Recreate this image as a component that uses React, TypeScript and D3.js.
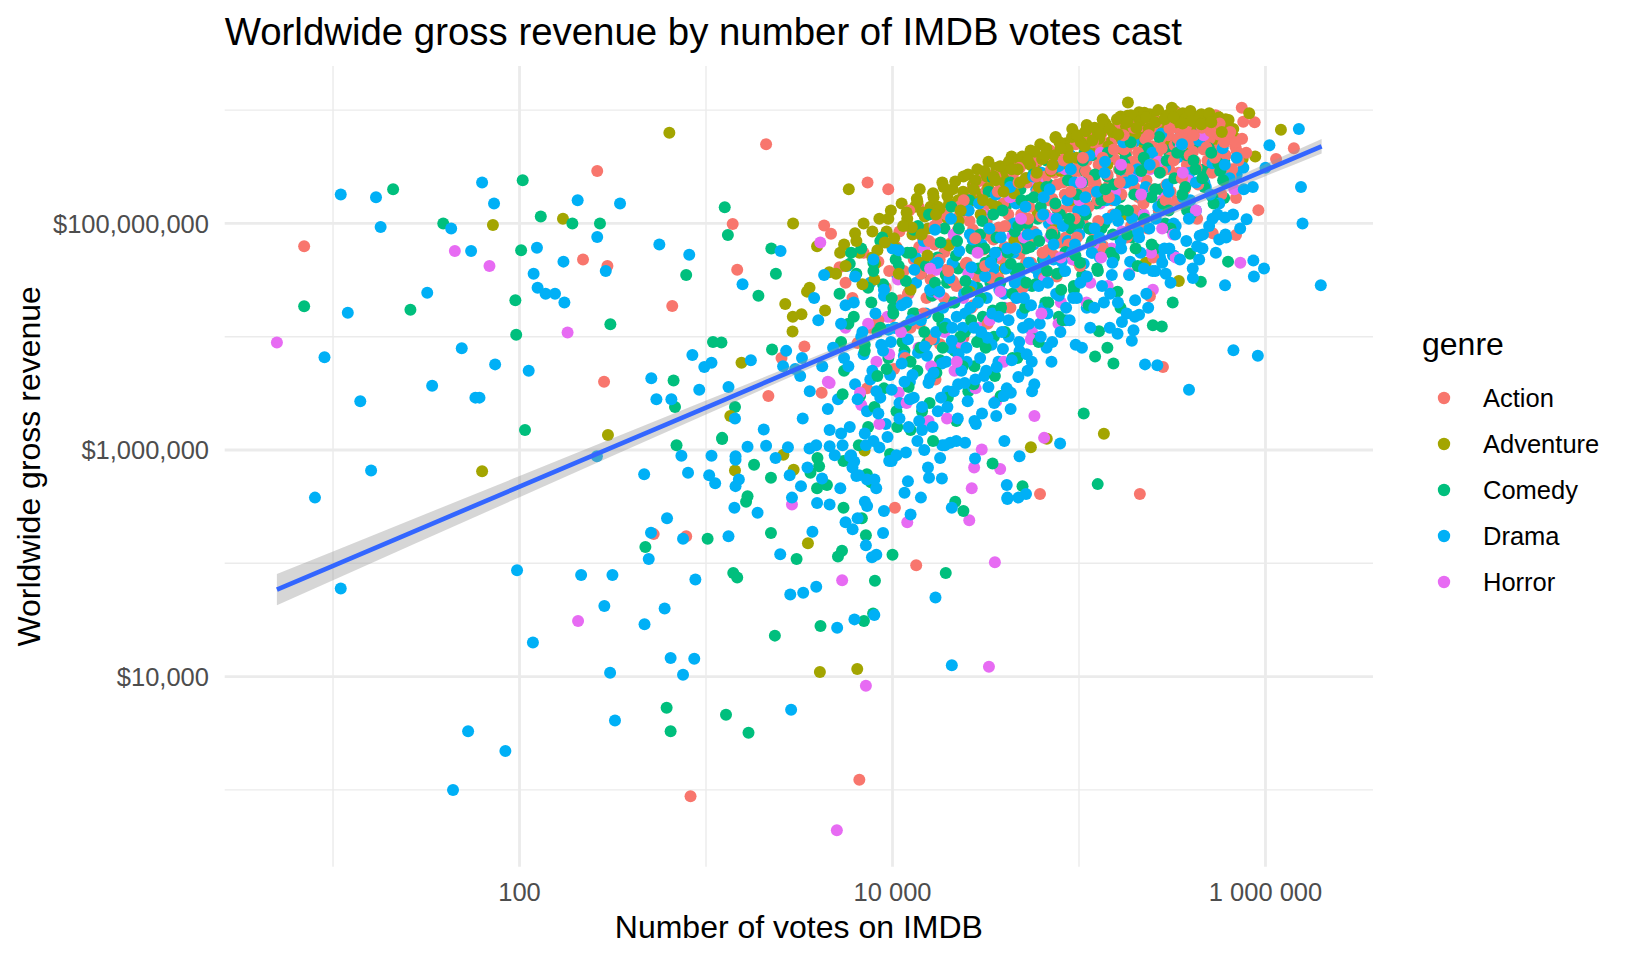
import React, { useMemo } from 'react';
import * as d3 from 'd3';

// [votes on IMDB, worldwide gross in $], one list per genre
type Point = [number, number];

const genres = ['Action', 'Adventure', 'Comedy', 'Drama', 'Horror'];
const genreColors = ['#F8766D', '#A3A500', '#00BF7D', '#00B0F6', '#E76BF3'];

const action: Point[] = [
  [7.0, 6.3e7], [261, 2.9e8], [219, 4.8e7], [296, 4.2e7], [284, 4.0e6], [524, 1.81e5], [783, 1.73e5],
  [10300, 3.1e5], [13400, 9.6e4], [6640, 1230], [826, 880], [212000, 4.1e5], [61800, 4.1e5],
  [1.42e6, 4.6e8], [1.14e6, 3.7e8], [695000, 7.9e7], [521000, 8.2e7], [916000, 1.31e8], [695000, 1.68e8],
  [746000, 1.05e9], [875000, 7.8e8], [760000, 7.9e8], [428000, 8.2e8], [474000, 7.8e8], [282000, 5.4e6],
  [2100, 5.0e8], [1390, 9.9e7], [1470, 3.9e7], [659, 1.87e7], [4300, 9.6e7], [4680, 8.1e7], [7350, 2.3e8],
  [9490, 2.0e8], [2540, 6.5e6], [3370, 8.2e6], [2160, 3.0e6], [4170, 3.2e6],
  [5200, 4.1e7], [6100, 2.2e7], [7000, 5.5e7], [7600, 1.2e7], [6500, 8.8e6], [5600, 3.0e7], [7300, 3.5e6],
  [8400, 4.6e7], [9200, 2.7e7], [10500, 6.2e7], [11500, 3.8e7], [9800, 1.5e7], [12000, 9.5e7], [8800, 7.2e7],
  [11000, 2.1e7], [12500, 1.2e7], [10200, 5.2e6],
  [13000, 4.8e7], [14500, 7.5e7], [16000, 3.2e7], [17500, 1.1e8], [19000, 5.6e7], [15200, 2.2e7], [18000, 8.6e6],
  [13800, 1.4e8], [16800, 6.5e7], [19500, 3.9e7], [14000, 1.3e7], [17000, 4.2e6],
  [21000, 6.9e7], [23000, 1.2e8], [25000, 4.5e7], [27000, 8.8e7], [29000, 1.6e8], [31000, 5.9e7], [22000, 2.8e7],
  [26000, 1.9e8], [24000, 9.8e6], [28500, 3.4e7], [30000, 2.4e8], [21500, 1.45e8], [32000, 1.05e8], [26500, 1.8e7],
  [33000, 7.8e7], [36000, 1.3e8], [38000, 4.9e7], [41000, 2.1e8], [44000, 9.2e7], [47000, 3.0e8], [35000, 2.7e8],
  [40000, 6.2e7], [43000, 1.7e8], [49000, 1.2e8], [37000, 3.3e7], [45000, 2.4e7], [34000, 1.9e8], [48000, 5.4e7],
  [42000, 3.4e8],
  [51000, 1.5e8], [54000, 2.5e8], [57000, 8.5e7], [60000, 3.8e8], [63000, 1.9e8], [66000, 1.2e8], [70000, 4.4e8],
  [74000, 2.8e8], [78000, 6.8e7], [52000, 4.5e7], [58000, 3.2e8], [68000, 5.8e7], [72000, 1.65e8], [76000, 3.4e7],
  [62000, 2.2e8],
  [82000, 2.3e8], [86000, 4.0e8], [90000, 1.4e8], [95000, 5.5e8], [100000, 2.9e8], [105000, 1.0e8], [110000, 3.6e8],
  [115000, 1.9e8], [120000, 6.2e8], [85000, 7.5e7], [98000, 4.6e7], [112000, 2.4e8], [125000, 4.7e8], [92000, 3.2e8],
  [130000, 3.0e8], [140000, 5.1e8], [150000, 1.6e8], [160000, 7.0e8], [170000, 2.7e8], [180000, 4.2e8], [190000, 9.5e7],
  [135000, 6.3e7], [155000, 3.7e8], [175000, 5.8e8], [198000, 2.1e8], [145000, 2.2e8], [185000, 7.6e8],
  [205000, 3.3e8], [215000, 5.3e8], [230000, 2.4e8], [245000, 6.6e8], [260000, 4.0e8], [275000, 1.5e8], [290000, 8.4e8],
  [305000, 3.0e8], [220000, 9.8e7], [250000, 5.0e7], [285000, 5.6e8], [310000, 1.9e8], [240000, 2.28e7],
  [320000, 4.6e8], [340000, 7.1e8], [360000, 2.7e8], [380000, 5.7e8], [400000, 8.9e8], [420000, 3.5e8], [445000, 6.3e8],
  [470000, 2.2e8], [490000, 4.8e8], [350000, 1.5e8], [430000, 1.1e8], [460000, 8.0e8],
  [520000, 5.4e8], [560000, 3.9e8], [600000, 6.8e8], [650000, 2.6e8], [700000, 4.4e8], [540000, 9.0e8], [580000, 1.8e8],
];

const adventure: Point[] = [
  [72, 9.7e7], [171, 1.1e8], [298, 1.36e6], [63, 6.5e5], [1430, 6.6e5], [2600, 9.1e5], [2950, 6.7e5], [7080, 9.9e5],
  [3520, 1.5e5], [4080, 1.1e4], [6470, 1.17e4], [55200, 1.06e6], [67200, 1.26e6], [136000, 1.39e6],
  [1.21e6, 6.7e8], [881000, 3.9e8], [755000, 3.7e8], [818000, 9.4e8], [697000, 5.6e8], [612000, 8.3e8], [557000, 8.7e8],
  [343000, 3.1e7], [228000, 4.5e7], [183000, 1.17e9], [210000, 9.6e8], [167000, 8.8e8], [139000, 7.6e8],
  [242000, 8.1e8], [327000, 9.8e8], [360000, 9.4e8], [453000, 9.2e8], [555000, 8.8e8], [614000, 8.2e8],
  [221000, 6.6e8], [74800, 5.7e8], [85300, 5.1e8], [127000, 5.6e8], [45200, 3.6e8], [58900, 3.4e8], [37800, 2.9e8],
  [636, 6.3e8], [2930, 1.0e8], [3940, 6.3e7], [5830, 2.0e8], [14000, 2.0e8], [13200, 1.4e8], [16000, 1.4e8],
  [32700, 3.5e8], [45100, 3.6e8], [37300, 3.0e8], [37300, 2.5e8], [27500, 1.9e8], [5240, 5.5e7], [6650, 5.5e7],
  [8070, 4.4e7], [4580, 3.7e7], [4980, 3.6e7], [3480, 2.5e7], [3590, 2.7e7], [2660, 1.94e7], [2920, 1.5e7],
  [3250, 1.58e7], [4350, 1.7e7], [2910, 1.11e7], [1550, 5.9e6], [1350, 2.0e6],
  [5500, 6.5e7], [6300, 8.2e7], [7000, 1.0e8], [7800, 5.0e7], [8500, 1.1e8], [9300, 8.5e7], [9800, 1.3e8],
  [10500, 6.0e7], [11200, 1.5e8], [12000, 1.1e8], [12800, 8.0e7], [13500, 1.65e8], [14500, 1.25e8], [15500, 9.0e7],
  [16500, 1.85e8], [17500, 1.4e8], [18500, 2.3e8], [19800, 1.1e8], [21000, 2.0e8], [22500, 1.6e8], [24000, 2.6e8],
  [25500, 1.3e8], [27000, 2.2e8], [28500, 3.0e8], [30000, 1.8e8], [32000, 2.6e8], [34000, 1.5e8], [36000, 3.1e8],
  [38500, 2.1e8], [41000, 2.8e8], [43500, 3.9e8], [46000, 1.9e8], [49000, 3.3e8], [52000, 2.5e8], [55000, 4.4e8],
  [58000, 3.0e8], [62000, 5.0e8], [66000, 2.2e8], [70000, 3.7e8], [75000, 5.8e8], [80000, 2.9e8], [86000, 4.8e8],
  [92000, 6.8e8], [98000, 3.6e8], [104000, 5.6e8], [110000, 7.4e8], [118000, 4.2e8], [126000, 6.3e8], [134000, 8.3e8],
  [142000, 3.3e8], [150000, 5.3e8], [160000, 7.0e8], [170000, 4.5e8], [182000, 8.9e8], [195000, 6.0e8], [210000, 7.8e8],
  [225000, 4.9e8], [240000, 9.2e8], [260000, 6.8e8], [280000, 8.0e8], [300000, 5.5e8], [325000, 9.0e8], [350000, 7.3e8],
  [380000, 4.6e8], [410000, 8.4e8], [440000, 6.2e8], [480000, 7.6e8], [520000, 8.3e8], [560000, 5.2e8], [620000, 7.0e8],
  [8000, 3.2e7], [14000, 4.5e7], [20000, 6.4e7], [26000, 2.5e7], [33000, 9.0e7], [45000, 7.0e7], [60000, 1.25e8],
  [90000, 1.6e8], [130000, 2.0e8], [180000, 1.2e8], [270000, 3.2e8], [12500, 2.6e7], [40000, 4.0e7], [75000, 1.0e8],
  [115000, 9.0e7],
];

const comedy: Point[] = [
  [21, 2.0e8], [7.0, 1.86e7], [26, 1.73e7], [39, 1.0e8], [104, 2.4e8], [130, 1.15e8], [102, 5.8e7], [192, 1.0e8],
  [270, 1.0e8], [95, 2.1e7], [96, 1.04e7], [307, 1.29e7], [107, 1.5e6],
  [695, 1.1e6], [1220, 1.25e6], [1640, 3.5e5], [1670, 3.9e5], [1810, 7.4e5], [2230, 5.7e5], [5460, 3.1e5],
  [3940, 4.6e5], [4450, 4.9e5], [3630, 6.3e5], [4040, 7.2e5], [3960, 8.5e5], [5460, 8.0e5], [7290, 6.1e5],
  [7660, 5.2e5], [6850, 2.5e5], [7200, 1.77e5], [5100, 1.15e5], [5360, 1.29e5], [10000, 1.19e5], [21700, 3.5e5],
  [24000, 2.9e5], [34400, 7.6e5], [1400, 8.2e4], [1470, 7.5e4], [473, 1.39e5], [1020, 1.65e5], [2230, 1.85e5],
  [3060, 1.09e5], [19300, 8.2e4], [8050, 7.0e4], [7870, 3.6e4], [7030, 3.1e4], [4110, 2.8e4], [2340, 2.3e4],
  [615, 5.3e3], [646, 3.3e3], [1280, 4.6e3], [1690, 3.2e3], [126000, 5.0e5], [49800, 4.8e5],
  [630000, 4.6e7], [450000, 3.05e7], [394000, 5.4e7], [600000, 1.68e8], [107000, 4.2e8], [66800, 3.6e8],
  [106000, 2.1e6], [153000, 5.8e6], [318000, 2.0e7], [278000, 1.23e7], [249000, 1.26e7], [167000, 1.8e7],
  [128000, 1.12e7], [142000, 8.0e6], [122000, 6.7e6],
  [1260, 1.39e8], [1310, 7.9e7], [783, 3.5e7], [1910, 2.3e7], [2240, 6.0e7], [2370, 3.6e7], [1090, 9.0e6],
  [1210, 8.9e6], [670, 4.1e6], [682, 2.4e6], [2260, 7.7e6], [1430, 2.4e6], [1220, 1.28e6],
  [5200, 2.4e7], [5800, 1.3e7], [6400, 3.6e7], [7100, 8.5e6], [7700, 2.0e7], [5500, 5.0e6], [6700, 3.0e6],
  [7400, 1.6e6], [6000, 5.5e7], [7900, 4.5e7], [5300, 9.0e6],
  [8300, 1.1e7], [8900, 2.9e7], [9500, 6.5e6], [10100, 1.8e7], [10800, 4.2e7], [11600, 7.5e6], [12300, 2.5e7],
  [9000, 3.5e6], [10500, 2.2e6], [11800, 1.25e7], [8600, 7.0e7], [12000, 5.5e7], [9700, 9.2e5], [12500, 1.5e6],
  [13200, 1.6e7], [14200, 3.6e7], [15300, 8.8e6], [16300, 2.3e7], [17400, 5.0e7], [18500, 1.3e7], [19600, 3.0e7],
  [13600, 5.0e6], [15800, 2.6e6], [18000, 6.2e6], [14800, 7.0e7], [19000, 9.0e7], [16500, 1.2e6], [13000, 8.8e7],
  [20500, 2.0e7], [22500, 4.0e7], [24500, 1.1e7], [26500, 6.0e7], [28500, 2.7e7], [30500, 1.5e7], [21500, 7.5e6],
  [25500, 3.3e6], [29500, 8.0e7], [23500, 1.3e8], [31500, 4.5e7], [27500, 5.5e6], [22000, 1.8e6],
  [33500, 3.0e7], [36500, 5.5e7], [39000, 1.8e7], [42000, 9.5e7], [45500, 3.8e7], [48500, 2.0e8], [35000, 1.0e7],
  [40500, 1.4e8], [44000, 6.5e6], [47500, 7.0e7], [38000, 3.0e6], [34500, 2.5e8],
  [52000, 6.0e7], [56000, 2.8e7], [60000, 1.1e8], [64000, 4.2e7], [69000, 2.2e8], [74000, 8.0e7], [78000, 1.5e7],
  [54000, 1.6e8], [66000, 2.0e7], [72000, 3.3e8], [58000, 9.5e6], [77000, 1.3e8],
  [83000, 5.0e7], [88000, 1.8e8], [94000, 2.6e7], [100000, 1.0e8], [108000, 2.9e8], [116000, 6.5e7], [124000, 1.5e8],
  [90000, 3.6e8], [104000, 3.5e7], [120000, 4.0e8],
  [132000, 9.0e7], [142000, 2.6e8], [154000, 5.0e7], [166000, 1.7e8], [178000, 3.9e8], [192000, 7.5e7],
  [148000, 4.6e8], [185000, 2.4e8],
  [210000, 1.2e8], [230000, 3.5e8], [255000, 6.0e7], [275000, 2.0e8], [300000, 4.4e8], [220000, 5.5e8], [290000, 1.0e8],
  [340000, 2.6e8], [380000, 1.3e8], [420000, 5.0e8], [470000, 3.0e8], [520000, 1.7e8], [600000, 3.6e8],
];

const drama: Point[] = [
  [11, 1.8e8], [17, 1.7e8], [18, 9.3e7], [12, 1.63e7], [9.0, 6.6e6], [14, 2.7e6], [32, 2.44e7], [43, 9.0e7],
  [55, 5.7e7], [63, 2.3e8], [73, 1.5e8], [124, 6.1e7], [205, 1.6e8], [346, 1.5e8], [261, 7.6e7], [290, 3.8e7],
  [172, 4.6e7], [119, 3.6e7], [125, 2.7e7], [138, 2.4e7], [155, 2.4e7], [174, 2.0e7], [49, 7.9e6], [74, 5.7e6],
  [112, 5.0e6], [34, 3.7e6], [58, 2.9e6], [61, 2.9e6],
  [8.0, 3.8e5], [16, 6.6e5], [11, 6.0e4], [97, 8.7e4], [214, 7.9e4], [315, 7.9e4], [285, 4.2e4], [118, 2.0e4],
  [306, 1.08e4], [325, 4.1e3], [53, 3.3e3], [84, 2.2e3], [44, 1.0e3], [260, 8.8e5],
  [466, 6.1e5], [738, 8.9e5], [801, 6.3e5], [1070, 8.9e5], [1040, 6.0e5], [1120, 5.1e5], [1440, 8.8e5], [1440, 8.2e5],
  [1500, 5.5e5], [1440, 4.8e5], [1420, 3.1e5], [1890, 2.8e5], [1670, 1.07e6], [2100, 1.09e6], [2360, 8.5e5],
  [2750, 1.06e6], [2810, 6.0e5], [3230, 4.8e5], [2890, 3.8e5], [3940, 3.4e5], [4600, 3.3e5], [5250, 4.6e5],
  [4190, 5.6e5], [3590, 1.03e6], [4600, 1.08e6], [5930, 8.8e5], [6230, 7.9e5], [6400, 5.9e5], [8180, 4.6e5],
  [7110, 3.5e5], [7310, 3.2e5], [5600, 2.3e5], [6110, 2.0e5], [7200, 1.44e5], [7760, 1.13e5], [8190, 1.19e5],
  [8900, 1.85e5], [9000, 2.9e5], [12500, 2.7e5], [11600, 4.2e5], [14200, 3.8e5], [12100, 5.3e5], [18400, 5.6e5],
  [15700, 5.7e5], [20800, 3.1e5], [41000, 4.9e5], [41300, 3.8e5], [27700, 8.4e5], [39800, 1.2e6], [24500, 1.16e6],
  [18500, 1.1e6], [20400, 1.16e6], [877, 7.2e4], [600, 4.0e4], [468, 2.9e4], [646, 1.46e4], [865, 1.44e4],
  [753, 1.04e4], [493, 1.09e5], [618, 2.5e5], [507, 1.86e5], [753, 1.65e5], [1320, 1.73e5], [3720, 1.9e5],
  [2500, 1.2e5], [17000, 5.0e4], [3900, 6.2e4], [2830, 5.3e4], [3320, 5.5e4], [7990, 3.5e4], [6250, 3.2e4],
  [5050, 2.7e4], [20800, 1.26e4], [2860, 5.1e3],
  [41300, 3.7e5], [47300, 3.8e5], [52000, 4.1e5], [48000, 8.8e5], [79200, 1.14e6],
  [1.51e6, 6.8e8], [1.05e6, 4.9e8], [1.0e6, 3.1e8], [1.55e6, 2.1e8], [1.58e6, 1.0e8], [1.98e6, 2.85e7],
  [861000, 4.7e7], [982000, 4.0e7], [867000, 3.4e7], [607000, 2.85e7], [408000, 3.3e7], [319000, 5.2e7],
  [441000, 4.8e7], [565000, 7.2e7], [792000, 1.09e8], [607000, 1.13e8], [855000, 2.1e8], [701000, 2.7e8],
  [761000, 3.1e8], [646000, 2.8e8], [196000, 7.1e8], [204000, 7.6e8], [226000, 5.7e6], [263000, 5.6e6],
  [389000, 3.4e6], [673000, 7.6e6], [910000, 6.8e6], [161000, 1.06e7], [196000, 1.14e7], [192000, 9.2e6],
  [200000, 2.1e7], [210000, 1.56e7], [322000, 5.2e7], [292000, 3.6e7], [272000, 5.0e7], [444000, 7.8e7],
  [439000, 2.3e8], [464000, 2.6e8],
  [562, 6.5e7], [813, 5.3e7], [1570, 2.9e7], [2510, 5.7e7], [1740, 6.2e6], [845, 6.9e6], [979, 5.4e6], [1070, 5.9e6],
  [509, 4.3e6], [542, 2.8e6], [652, 2.8e6], [920, 3.4e6], [1320, 3.6e6], [2690, 7.5e6], [2590, 5.5e6], [3270, 6.5e6],
  [3010, 5.2e6], [2040, 1.52e6], [1430, 1.9e6],
  [3300, 1.9e6], [3600, 3.3e6], [3900, 1.1e6], [4200, 5.5e6], [4500, 2.3e6], [4800, 8.0e6], [3500, 7.0e5],
  [4000, 1.4e7], [4600, 1.5e6], [3200, 4.5e6], [4300, 3.5e7], [4900, 9.0e5], [3800, 2.2e7],
  [5100, 2.8e6], [5500, 6.5e6], [5900, 1.6e6], [6300, 3.8e6], [6800, 1.0e7], [7300, 2.2e6], [7800, 5.0e6],
  [5300, 1.3e7], [6000, 9.0e5], [6600, 6.0e5], [7100, 1.4e6], [7600, 3.0e7], [5700, 4.2e7], [6200, 2.0e7],
  [7000, 7.0e6], [5400, 1.1e6], [7900, 1.2e6], [6500, 2.5e5],
  [8200, 3.3e6], [8700, 8.5e6], [9200, 1.7e6], [9700, 4.6e6], [10300, 1.2e7], [10900, 2.6e6], [11500, 6.8e6],
  [12200, 1.6e6], [8500, 1.05e6], [9000, 2.3e7], [9900, 8.0e5], [10600, 3.5e7], [11200, 1.9e7], [12400, 4.0e6],
  [8000, 5.5e5], [9500, 1.15e7], [11800, 9.5e5], [10000, 6.0e7],
  [13000, 2.9e6], [13700, 7.2e6], [14400, 1.5e6], [15100, 1.6e7], [15900, 4.3e6], [16700, 9.5e6], [17500, 2.2e6],
  [18400, 5.8e6], [19300, 1.3e7], [13400, 3.0e7], [14800, 1.0e6], [16200, 2.5e7], [18000, 8.5e5], [19800, 3.3e6],
  [17000, 4.5e7], [15500, 7.0e5], [13300, 5.0e7],
  [20500, 8.0e6], [21500, 2.0e7], [22500, 3.8e6], [23800, 1.2e7], [25000, 6.0e6], [26500, 2.8e7], [28000, 1.7e6],
  [29500, 9.5e6], [31000, 4.5e6], [21000, 4.5e7], [24500, 1.6e7], [27000, 3.6e6], [30000, 6.5e7], [22000, 1.2e6],
  [26000, 8.0e7], [32000, 2.2e7],
  [33000, 1.4e7], [35000, 4.0e7], [37000, 6.0e6], [39500, 2.4e7], [42000, 1.0e7], [44500, 5.5e7], [47000, 3.2e7],
  [49500, 1.6e7], [34000, 8.5e6], [38000, 9.0e7], [41000, 3.5e6], [46000, 1.5e8], [48000, 7.5e6], [36000, 2.0e6],
  [43000, 2.3e6],
  [51000, 2.8e7], [54000, 1.3e7], [57000, 6.5e7], [61000, 3.5e7], [65000, 1.8e7], [69000, 1.0e8], [73000, 4.8e7],
  [78000, 2.3e7], [53000, 5.0e6], [59000, 2.0e8], [67000, 8.0e6], [75000, 1.4e8], [56000, 3.3e6], [63000, 2.8e8],
  [82000, 3.8e7], [87000, 7.0e7], [93000, 2.2e7], [99000, 1.3e8], [106000, 4.4e7], [113000, 9.0e7], [121000, 2.6e8],
  [85000, 1.4e7], [96000, 8.5e6], [110000, 1.8e7], [118000, 5.5e7], [90000, 4.0e8],
  [130000, 6.5e7], [140000, 1.6e8], [150000, 3.5e7], [162000, 1.05e8], [175000, 2.9e8], [188000, 4.6e7],
  [136000, 2.0e7], [170000, 1.35e7], [196000, 5.2e8], [145000, 4.5e8],
  [210000, 7.5e7], [228000, 2.1e8], [248000, 3.8e7], [268000, 1.3e8], [290000, 3.1e8], [305000, 6.0e7],
  [235000, 1.8e7], [280000, 6.6e8],
  [330000, 9.5e7], [360000, 3.9e8], [395000, 1.6e8], [430000, 6.3e7], [470000, 2.3e8], [520000, 1.1e8],
  [560000, 3.0e8], [610000, 8.0e7], [350000, 6.0e8],
];

const horror: Point[] = [
  [5.0, 8.9e6], [45, 5.7e7], [69, 4.2e7], [181, 1.09e7], [206, 3.1e4],
  [2890, 3.3e5], [25800, 2.4e5], [12000, 2.3e5], [26600, 4.6e5], [27400, 7.0e5], [30100, 1.01e6], [37800, 6.8e5],
  [35400, 1.02e5], [5370, 7.1e4], [7200, 8.3e3], [32900, 1.22e4], [5030, 440], [65000, 1.28e6],
  [733000, 4.5e7], [681000, 2.0e8], [310000, 7.2e8], [249000, 2.6e7], [57700, 2.0e6], [4100, 6.8e7], [4600, 3.9e6],
  [4500, 4.0e6], [5600, 1.2e7], [6800, 2.5e6], [8200, 6.0e6], [9400, 1.5e7], [10800, 3.2e6], [12200, 2.4e7],
  [13800, 8.0e6], [15600, 1.8e6], [17200, 3.9e7], [19000, 1.1e7], [21500, 5.0e6], [24000, 2.2e7], [27000, 6.0e7],
  [29000, 1.2e7], [32000, 3.6e7], [36000, 2.7e6], [40000, 1.8e7], [44000, 7.8e7], [50000, 2.7e7], [56000, 1.1e7],
  [62000, 4.0e7], [70000, 7.5e7], [80000, 2.0e7], [90000, 5.5e7], [100000, 1.0e8], [115000, 3.0e7], [130000, 1.5e8],
  [150000, 6.0e7], [170000, 2.2e8], [200000, 9.0e7], [240000, 3.0e8], [280000, 1.6e8], [330000, 5.0e7], [400000, 3.9e8],
];

// the dense core of the cloud, in thousands of votes and millions of dollars
type CorePoint = [number, number];

const actionCore: CorePoint[] = [
  [9.6, 38], [8.4, 14], [10.9, 85], [12.1, 24], [11.7, 6.5], [13.9, 62], [12.3, 130], [14.6, 16], [16.8, 95], [14.2, 36],
  [17.9, 48], [16.1, 9.5], [19.4, 120], [18.9, 22], [20.3, 66], [22.8, 140], [21.1, 31], [23.5, 8.5], [22.4, 88], [26.3, 175],
  [24.7, 44], [27.1, 19], [25.9, 105], [29.6, 58], [28.2, 230], [30.8, 130], [33.7, 33], [31.9, 195], [34.8, 72], [35.6, 260],
  [32.4, 13], [39.2, 150], [37.1, 92], [40.7, 41], [38.4, 215], [42.9, 18], [44.6, 280], [41.8, 120], [46.3, 60], [45.1, 175],
  [50.7, 95], [48.2, 310], [52.9, 230], [49.8, 27], [54.1, 140], [57.8, 70], [56.4, 340], [59.7, 190], [55.3, 45], [62.7, 115],
  [66.2, 260], [61.8, 370], [64.9, 33], [68.4, 160], [71.8, 85], [69.5, 400], [76.3, 220], [73.4, 52], [78.7, 310], [80.9, 130],
  [86.7, 420], [83.9, 180], [88.2, 65], [91.5, 270], [94.8, 110], [99.3, 350], [96.1, 500], [103.6, 200], [101.2, 42], [108.9, 290],
  [112.7, 140], [106.4, 560], [116.9, 420], [119.8, 85], [122.6, 230], [127.4, 330], [131.8, 620], [125.9, 160], [137.7, 480],
  [134.4, 60], [142.3, 270], [147.9, 390], [151.6, 120], [139.8, 200], [157.3, 560], [163.8, 300], [160.2, 700], [168.9, 180],
  [174.6, 450], [180.3, 75], [177.1, 240], [186.2, 640], [192.7, 350], [198.4, 130], [189.5, 500], [205.3, 260], [212.9, 720],
  [218.6, 400], [209.1, 170], [226.4, 560], [233.8, 90], [238.7, 310], [229.6, 820], [247.2, 480], [252.6, 200], [259.8, 650],
  [244.3, 370], [268.1, 130], [273.9, 560], [279.4, 290], [286.7, 750], [264.4, 430], [294.2, 220], [301.8, 600], [309.5, 380],
  [297.6, 880], [318.3, 160], [325.4, 490], [333.9, 700], [341.7, 280], [329.2, 950], [352.6, 420], [361.3, 600], [368.9, 200],
  [357.4, 820], [378.8, 330], [389.6, 520], [397.1, 750], [384.2, 260], [408.5, 430], [417.3, 680], [426.8, 310], [439.5, 560],
  [447.2, 830], [458.9, 240], [466.7, 450], [478.3, 650], [489.1, 360], [501.6, 560], [517.4, 280], [528.2, 720], [541.9, 440],
  [559.6, 610], [574.3, 330], [592.8, 500], [611.4, 400], [637.5, 580], [662.3, 300], [688.7, 480], [715.9, 360], [749.2, 560],
  [788.6, 420],
  [15.7, 70], [19.9, 38], [24.1, 160], [27.8, 74], [31.4, 42], [36.7, 190], [40.1, 95], [47.4, 230], [53.5, 110], [58.9, 260],
  [63.8, 55], [70.9, 300], [75.2, 140], [82.7, 360], [90.1, 190], [97.3, 75], [104.9, 380], [111.4, 240], [118.6, 520],
  [126.7, 105], [133.9, 380], [144.6, 170], [153.8, 450], [165.4, 230], [172.9, 600], [183.7, 300], [196.2, 700], [207.4, 420],
  [221.7, 150], [236.3, 600], [251.9, 330], [262.7, 780], [277.8, 460], [291.6, 160], [305.7, 690], [322.1, 360], [339.4, 560],
  [356.2, 250], [373.9, 700], [392.4, 400], [412.8, 600], [435.6, 220], [455.9, 700], [482.3, 470], [508.7, 650], [535.2, 380],
  [567.8, 760], [602.5, 520], [647.3, 640], [693.4, 520],
];

const adventureCore: CorePoint[] = [
  [5.6, 42], [6.4, 70], [6.9, 29], [7.8, 85], [8.3, 58], [9.5, 110], [10.2, 74], [10.8, 36], [11.9, 125], [12.7, 92],
  [13.6, 155], [14.9, 115], [15.4, 52], [16.6, 170], [17.9, 135], [18.8, 210], [20.1, 150], [21.7, 235], [22.6, 105], [23.9, 190],
  [25.4, 270], [26.8, 160], [27.9, 240], [29.7, 120], [31.2, 290], [32.6, 205], [34.9, 260], [36.3, 140], [37.8, 320], [40.2, 230],
  [42.1, 350], [44.8, 185], [46.9, 300], [49.6, 390], [51.8, 250], [54.7, 330], [57.9, 430], [60.8, 210], [63.4, 370], [66.9, 460],
  [70.8, 290], [74.2, 400], [78.6, 520], [82.4, 340], [86.9, 450], [91.7, 580], [96.8, 380], [102.4, 520], [108.3, 650], [114.6, 430],
  [121.2, 700], [128.3, 560], [135.4, 760], [143.7, 480], [151.2, 640], [159.8, 830], [169.4, 560], [178.7, 720], [189.9, 900],
  [200.6, 620], [212.4, 800], [224.1, 950], [236.8, 690], [250.3, 860], [265.7, 1000], [281.2, 740], [297.4, 900], [314.6, 1050],
  [333.1, 780], [352.7, 920], [373.2, 850], [395.8, 980], [419.4, 720], [444.7, 890], [471.2, 800], [499.5, 940], [529.3, 700],
  [561.8, 860], [596.4, 760], [634.2, 820], [671.8, 680],
  [9.1, 68], [11.4, 95], [14.3, 80], [17.1, 120], [19.7, 175], [23.2, 130], [27.3, 200], [30.6, 160], [35.7, 240], [39.4, 190],
  [43.6, 300], [48.3, 230], [53.2, 360], [59.4, 280], [65.7, 400], [72.3, 330], [79.8, 460], [88.2, 380], [97.9, 600],
  [107.1, 480], [117.8, 540], [130.2, 620], [145.8, 690], [162.4, 610], [181.4, 780], [203.2, 700], [228.7, 860], [256.1, 780],
  [287.9, 830], [321.3, 870], [358.9, 760], [402.6, 800], [452.8, 750], [512.4, 780], [583.1, 640],
];

const comedyCore: CorePoint[] = [
  [5.4, 3.1], [6.2, 15], [5.9, 44], [6.6, 1.1], [7.1, 7.5], [7.4, 27], [6.8, 60], [8.0, 2.4], [8.6, 12], [7.9, 38],
  [9.3, 5.2], [9.9, 22], [8.8, 75], [10.6, 1.6], [11.3, 9], [10.4, 48], [12.2, 3.6], [11.8, 31], [12.9, 16], [13.7, 95],
  [12.5, 6], [14.4, 2.2], [15.1, 42], [14.8, 11], [16.3, 26], [15.7, 120], [17.2, 4.8], [18.1, 68], [17.6, 15], [19.3, 35],
  [18.6, 8], [20.7, 140], [19.8, 2.9], [21.9, 52], [21.4, 20], [23.1, 10], [22.7, 90], [24.6, 31], [23.8, 5.5], [25.8, 160],
  [26.4, 14], [27.6, 65], [28.9, 40], [27.2, 3.8], [30.3, 105], [29.7, 22], [31.6, 8], [32.8, 190], [33.9, 48], [34.5, 17],
  [36.1, 75], [35.4, 4.5], [37.8, 30], [38.9, 130], [40.1, 11], [41.6, 55], [42.8, 230], [43.9, 24], [45.3, 85], [46.7, 6.5],
  [47.9, 40], [49.2, 160], [51.4, 18], [52.8, 100], [54.6, 62], [56.9, 270], [58.3, 29], [60.7, 9], [62.4, 140], [64.1, 48],
  [66.8, 210], [68.5, 20], [71.2, 80], [73.9, 310], [76.4, 36], [79.1, 120], [81.7, 14], [84.6, 56], [87.3, 240], [90.6, 90],
  [93.8, 28], [97.5, 180], [101.3, 45], [105.1, 360], [108.8, 120], [112.6, 19], [117.4, 70], [121.9, 270], [126.3, 38],
  [131.7, 160], [136.9, 100], [142.6, 420], [148.4, 55], [154.3, 220], [160.9, 25], [167.2, 130], [174.8, 340], [181.6, 80],
  [189.3, 520], [197.8, 180], [206.4, 42], [215.7, 290], [224.8, 110], [234.6, 460], [245.2, 65], [256.3, 200], [268.7, 580],
  [281.4, 150], [295.2, 360], [309.6, 90], [324.7, 250], [340.9, 520], [358.2, 180], [377.6, 400], [398.4, 120], [420.9, 300],
  [444.3, 620], [469.7, 210], [497.2, 460], [526.8, 150], [558.4, 340], [592.7, 240],
  [8.3, 4.5], [10.1, 16], [12.6, 55], [14.1, 8], [16.9, 30], [19.1, 12], [22.2, 70], [25.1, 25], [28.4, 9], [31.1, 60],
  [34.7, 120], [38.2, 18], [43.1, 44], [47.2, 95], [52.1, 30], [57.3, 170], [61.2, 70], [67.4, 38], [74.7, 150], [80.3, 26],
  [88.6, 110], [95.7, 52], [103.9, 230], [113.8, 90], [125.2, 40], [138.4, 200], [151.9, 80], [166.3, 300], [183.1, 130],
  [201.2, 60], [222.4, 380], [244.8, 170], [271.3, 280], [302.6, 130], [336.5, 420], [371.4, 210], [411.2, 360], [458.6, 250],
  [512.3, 420], [571.8, 290],
];

const dramaCore: CorePoint[] = [
  [5.3, 1.4], [5.8, 5.5], [6.1, 0.7], [5.6, 19], [6.5, 2.8], [6.9, 11], [6.3, 34], [7.2, 1.1], [7.6, 4.2], [8.1, 16],
  [7.3, 0.55], [8.4, 2.1], [7.9, 48], [8.9, 7.5], [9.4, 1.3], [9.0, 26], [9.9, 3.4], [10.3, 12], [9.6, 0.8], [10.8, 58],
  [11.2, 5.8], [10.9, 1.9], [11.9, 20], [12.4, 2.8], [12.1, 9.5], [13.1, 39], [13.6, 1.2], [12.8, 4.6], [14.2, 14], [14.7, 70],
  [14.4, 2.4], [15.3, 6.8], [15.9, 26], [16.4, 1.6], [15.6, 3.9], [17.1, 11], [17.5, 45], [16.9, 88], [18.2, 2.9], [18.7, 18],
  [19.4, 6], [19.1, 1.1], [20.2, 33], [20.8, 9.2], [21.3, 3.3], [20.6, 110], [22.1, 15], [22.8, 57], [23.4, 5], [22.4, 1.9],
  [24.2, 24], [24.9, 8], [25.6, 130], [25.3, 2.7], [26.5, 41], [27.3, 12], [27.8, 4.2], [26.9, 72], [28.7, 20], [29.5, 6.5],
  [30.2, 2.1], [29.1, 150], [31.4, 34], [32.3, 9.8], [33.1, 90], [32.7, 3.6], [34.3, 16], [35.4, 55], [36.2, 5.4], [35.8, 180],
  [37.4, 26], [38.6, 11], [39.5, 3], [38.1, 75], [40.7, 40], [41.9, 14], [42.8, 210], [43.6, 6.2], [44.9, 100], [46.1, 22],
  [47.3, 4.4], [45.6, 60], [48.7, 32], [50.1, 12], [51.6, 140], [52.4, 7], [53.8, 45], [55.3, 19], [56.9, 260], [57.6, 3.8],
  [59.2, 80], [60.8, 28], [62.4, 10], [64.3, 120], [65.9, 48], [67.8, 16], [69.7, 200], [71.2, 6], [73.1, 65], [75.4, 24],
  [77.6, 320], [79.5, 11], [81.9, 95], [84.3, 38], [86.7, 160], [89.1, 14], [91.8, 56], [94.6, 230], [97.4, 22], [100.3, 80],
  [103.7, 8], [106.9, 130], [110.2, 34], [113.6, 400], [117.1, 55], [120.8, 18], [124.7, 190], [128.6, 75], [132.9, 28],
  [137.2, 280], [141.8, 110], [146.3, 12], [151.1, 45], [156.4, 160], [161.7, 20], [167.3, 70], [173.1, 520], [179.2, 230],
  [185.6, 35], [192.3, 110], [199.1, 15], [206.4, 300], [213.9, 55], [221.6, 160], [229.8, 24], [238.2, 90], [247.1, 420],
  [256.4, 38], [266.1, 140], [276.3, 620], [286.9, 60], [298.1, 220], [309.7, 30], [321.9, 100], [334.6, 380], [347.9, 48],
  [361.8, 170], [376.3, 70], [391.4, 280], [407.2, 40], [423.8, 130], [441.2, 540], [459.4, 60], [478.6, 210], [498.7, 95],
  [519.8, 340], [541.9, 55], [565.2, 150], [589.6, 460], [615.3, 75], [642.2, 250], [670.5, 120], [700.3, 380], [731.7, 90],
  [764.8, 200],
  [8.6, 2.9], [9.8, 9], [10.5, 0.9], [11.6, 4], [12.6, 14], [13.9, 1.8], [14.9, 8.2], [16.6, 4.8], [17.8, 25], [19.7, 2.4],
  [20.9, 12], [22.6, 7], [24.4, 3.9], [26.1, 18], [27.5, 1.8], [29.9, 11], [31.8, 5], [33.6, 45], [35.1, 2.6], [37.1, 15],
  [39.1, 7.8], [41.3, 60], [43.1, 3.2], [45.2, 30], [47.8, 9], [50.7, 22], [53.1, 80], [55.8, 6], [58.4, 40], [61.6, 13],
  [64.7, 170], [68.1, 30], [71.8, 9], [75.8, 110], [80.7, 46], [85.3, 18], [90.4, 300], [95.2, 65], [101.7, 30], [108.3, 170],
  [114.9, 12], [121.3, 90], [129.4, 50], [137.9, 350], [146.8, 24], [157.1, 120], [168.4, 60], [180.2, 16], [193.4, 240],
  [207.3, 85], [223.1, 40], [239.5, 330], [258.2, 110], [279.6, 45], [302.8, 190], [328.1, 80], [356.7, 500], [388.4, 110],
  [423.6, 230], [462.3, 80], [506.2, 180], [552.7, 120], [605.1, 330],
];

const horrorCore: CorePoint[] = [
  [6.7, 3.2], [7.4, 13], [8.5, 1.7], [9.6, 7], [10.7, 32], [11.9, 2.6], [13.4, 15], [14.8, 60], [16.1, 5.5], [17.7, 24],
  [19.6, 1.9], [21.3, 80], [23.2, 9], [25.5, 36], [27.9, 3.5], [30.4, 120], [33.2, 14], [36.1, 52], [39.5, 6], [42.7, 170],
  [46.6, 22], [50.7, 75], [55.2, 9.5], [60.1, 230], [65.4, 32], [71.3, 110], [77.6, 13], [84.5, 300], [92.2, 48], [100.4, 160],
  [109.7, 20], [119.5, 65], [130.6, 420], [142.4, 28], [155.9, 190], [170.2, 85], [186.1, 36], [203.5, 260], [222.7, 120],
  [243.6, 55], [266.8, 350], [292.3, 170], [320.4, 80], [351.2, 480], [385.6, 240], [423.4, 130], [465.1, 600],
  [11.1, 11], [15.9, 40], [22.1, 6], [28.6, 55], [37.9, 25], [48.9, 110], [62.9, 16], [79.9, 50], [102.6, 230], [131.5, 50],
  [168.2, 330], [215.4, 180], [279.3, 90], [360.4, 280],
];

const fromCore = (pts: CorePoint[]): Point[] => pts.map(([k, m]) => [k * 1e3, m * 1e6]);

const genrePoints: Point[][] = [
  [...action, ...fromCore(actionCore)],
  [...adventure, ...fromCore(adventureCore)],
  [...comedy, ...fromCore(comedyCore)],
  [...drama, ...fromCore(dramaCore)],
  [...horror, ...fromCore(horrorCore)],
];

// linear fit of log gross on log votes with its 95% band
const fitVotes = [5, 10, 100, 1000, 1e4, 1e5, 1e6, 2e6];
const fitGross = [5.86e4, 9.51e4, 4.75e5, 2.37e6, 1.186e7, 5.93e7, 2.958e8, 4.797e8];
const fitLow = [4.27e4, 7.1e4, 3.83e5, 2.06e6, 1.102e7, 5.55e7, 2.613e8, 4.139e8];
const fitHigh = [8.03e4, 1.274e5, 5.89e5, 2.73e6, 1.276e7, 6.33e7, 3.348e8, 5.56e8];

const xMajor = [100, 1e4, 1e6];
const xMinor = [10, 1000, 1e5];
const yMajor = [1e4, 1e6, 1e8];
const yMinor = [1e3, 1e5, 1e7, 1e9];

const FONT = "'Liberation Sans', Arial, Helvetica, sans-serif";

// ggplot-like 5% expansion on a log axis
const expandLog = (ext: [number, number]): [number, number] => {
  const lo = Math.log10(ext[0]);
  const hi = Math.log10(ext[1]);
  const pad = (hi - lo) * 0.05;
  return [Math.pow(10, lo - pad), Math.pow(10, hi + pad)];
};

const App: React.FC = () => {
  const width = 1632;
  const height = 960;
  const panel = { left: 224.7, right: 1373, top: 66, bottom: 866.7 };

  const { xScale, yScale, marks } = useMemo(() => {
    const all = genrePoints.flat();
    const xScale = d3.scaleLog()
      .domain(expandLog(d3.extent(all, d => d[0]) as [number, number]))
      .range([panel.left, panel.right]);
    const yScale = d3.scaleLog()
      .domain(expandLog(d3.extent(all, d => d[1]) as [number, number]))
      .range([panel.bottom, panel.top]);

    // interleave genres so that no colour sits entirely on top of another
    const longest = d3.max(genrePoints, g => g.length) || 0;
    const marks: { p: Point; g: number }[] = [];
    for (let i = 0; i < longest; i++) {
      genrePoints.forEach((pts, g) => {
        const j = Math.floor((i * pts.length) / longest);
        if (Math.floor(((i + 1) * pts.length) / longest) > j) marks.push({ p: pts[j], g });
      });
    }
    return { xScale, yScale, marks };
  }, []);

  const fitRows = fitVotes.map((v, i) => ({ v, mid: fitGross[i], lo: fitLow[i], hi: fitHigh[i] }));
  const band = d3.area<typeof fitRows[number]>()
    .x(d => xScale(d.v))
    .y0(d => yScale(d.lo))
    .y1(d => yScale(d.hi))
    .curve(d3.curveMonotoneX)(fitRows) || '';
  const fitLine = d3.line<typeof fitRows[number]>()
    .x(d => xScale(d.v))
    .y(d => yScale(d.mid))(fitRows) || '';

  const fmtX = (v: number) => d3.format(',')(v).replace(/,/g, ' ');
  const fmtY = (v: number) => '$' + d3.format(',')(v);

  const tickSize = 25.5;
  const legendRows = [398, 444, 490, 536, 582];

  return (
    <div style={{ position: 'absolute', left: 0, top: 0 }}>
      <svg width={width} height={height} style={{ display: 'block', background: '#fff' }} fontFamily={FONT}>
        {/* grid */}
        {yMinor.map(v => (
          <line key={`ym-${v}`} x1={panel.left} x2={panel.right} y1={yScale(v)} y2={yScale(v)}
            stroke="#EBEBEB" strokeWidth={1.4} />
        ))}
        {xMinor.map(v => (
          <line key={`xm-${v}`} x1={xScale(v)} x2={xScale(v)} y1={panel.top} y2={panel.bottom}
            stroke="#EBEBEB" strokeWidth={1.4} />
        ))}
        {yMajor.map(v => (
          <line key={`yM-${v}`} x1={panel.left} x2={panel.right} y1={yScale(v)} y2={yScale(v)}
            stroke="#EBEBEB" strokeWidth={2.8} />
        ))}
        {xMajor.map(v => (
          <line key={`xM-${v}`} x1={xScale(v)} x2={xScale(v)} y1={panel.top} y2={panel.bottom}
            stroke="#EBEBEB" strokeWidth={2.8} />
        ))}

        {/* points */}
        {marks.map(({ p, g }, i) => (
          <circle key={i} cx={xScale(p[0])} cy={yScale(p[1])} r={6} fill={genreColors[g]} />
        ))}

        {/* smoother */}
        <path d={band} fill="#999999" fillOpacity={0.4} />
        <path d={fitLine} fill="none" stroke="#3366FF" strokeWidth={4.6} />

        {/* axes labels */}
        {yMajor.map(v => (
          <text key={`yl-${v}`} x={209} y={yScale(v) + tickSize * 0.36} textAnchor="end"
            fontSize={tickSize} fill="#4D4D4D">{fmtY(v)}</text>
        ))}
        {xMajor.map(v => (
          <text key={`xl-${v}`} x={xScale(v)} y={900.5} textAnchor="middle"
            fontSize={tickSize} fill="#4D4D4D">{fmtX(v)}</text>
        ))}
        <text x={(panel.left + panel.right) / 2} y={938} textAnchor="middle" fontSize={32} fill="#000">
          Number of votes on IMDB
        </text>
        <text transform={`translate(40, ${(panel.top + panel.bottom) / 2}) rotate(-90)`} textAnchor="middle"
          fontSize={32} fill="#000">
          Worldwide gross revenue
        </text>
        <text x={224.7} y={45} fontSize={38.4} fill="#000">
          Worldwide gross revenue by number of IMDB votes cast
        </text>

        {/* legend */}
        <text x={1422} y={355} fontSize={32} fill="#000">genre</text>
        {genres.map((g, i) => (
          <g key={g}>
            <circle cx={1444} cy={legendRows[i]} r={6.2} fill={genreColors[i]} />
            <text x={1483} y={legendRows[i] + tickSize * 0.36} fontSize={tickSize} fill="#000">{g}</text>
          </g>
        ))}
      </svg>
    </div>
  );
};

export default App;
